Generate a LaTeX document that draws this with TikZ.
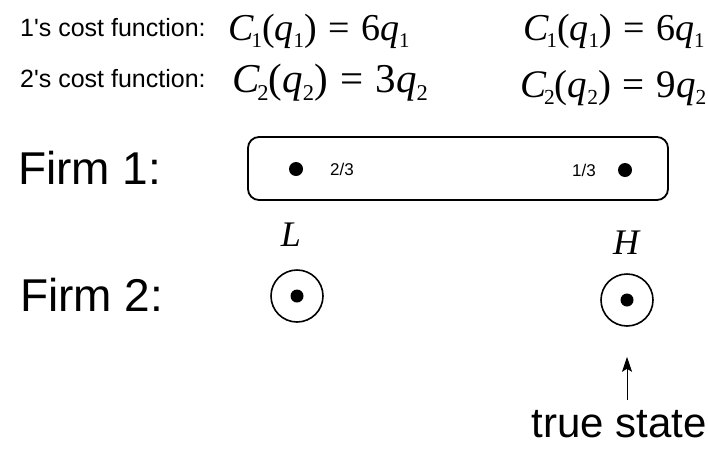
\documentclass[tikz,border=0pt]{standalone}
\usepackage{fontspec}
\setmainfont{Liberation Sans}
\newfontfamily\tnr{Liberation Serif}
\usetikzlibrary{arrows.meta}
\newdimen\fsz
\newcommand{\sbx}[1]{\raisebox{-0.2em}{\fontsize{0.55\fsz}{1}\selectfont #1}}
\newcommand{\costeq}[4]{{\tnr\fsz=#4\fontsize{\fsz}{\fsz}\selectfont\textit{C}\kern-0.06em\sbx{#1}(\textit{q}\sbx{#1})\hspace{0.3em}=\hspace{0.3em}#2\textit{q}\sbx{#1}}}
\begin{document}
\begin{tikzpicture}[x=1pt,y=-1pt,
  lbl/.style={inner sep=0pt,anchor=base west,font=\fontsize{25}{25}\selectfont},
  firm/.style={inner sep=0pt,anchor=base west,font=\fontsize{46}{46}\selectfont},
  eqn/.style={inner sep=0pt,anchor=base west},
  prob/.style={inner sep=0pt,anchor=base west,font=\fontsize{17}{17}\selectfont},
  state/.style={inner sep=0pt,anchor=base,font=\tnr\itshape\fontsize{36}{36}\selectfont},
  dotn/.style={circle,fill=black,inner sep=0pt,minimum size=14pt},
  sdot/.style={circle,fill=black,inner sep=0pt,minimum size=13pt},
  ring/.style={circle,draw=black,line width=1.6pt,inner sep=0pt,minimum size=52pt},
  setbox/.style={draw=black,line width=1.8pt,rounded corners=11pt}]
\useasboundingbox (0,0) rectangle (708,461);
\node[lbl] (l1) at (20,36) {1\textquotesingle s cost function:};
\node[lbl] (l2) at (20,87) {2\textquotesingle s cost function:};
\node[eqn] (e11) at (228,40) {\costeq{1}{6}{1}{38pt}};
\node[eqn] (e12) at (523,40) {\costeq{1}{6}{1}{38pt}};
\node[eqn] (e21) at (232,92) {\costeq{2}{3}{2}{41pt}};
\node[eqn] (e22) at (520,97) {\costeq{2}{9}{2}{39pt}};
\node[firm] (f1) at (18,184) {Firm 1:};
\node[firm] (f2) at (20,311) {Firm 2:};
\draw[setbox] (248,137) rectangle (668,200);
\node[dotn] (d1) at (296,169) {};
\node[dotn] (d2) at (625,170) {};
\node[prob] (p1) at (330,175) {2/3};
\node[prob] (p2) at (572,176) {1/3};
\node[state] (sl) at (291,246) {L};
\node[state] (sh) at (626,254) {H};
\node[ring] (cl) at (297,296) {};
\node[ring] (ch) at (627,300) {};
\node[sdot] (il) at (cl) {};
\node[sdot] (ih) at (ch) {};
\node[inner sep=0pt,anchor=base,font=\fontsize{42}{42}\selectfont] (ts) at (619,437) {true state};
\path (ts.north -| ch.center) coordinate (ta);
\draw[line width=1pt,-{Stealth[length=15pt,width=10pt,inset=3pt]}] ([yshift=10pt]ta) -- ([yshift=-30pt]ch.south);
\end{tikzpicture}
\end{document}
